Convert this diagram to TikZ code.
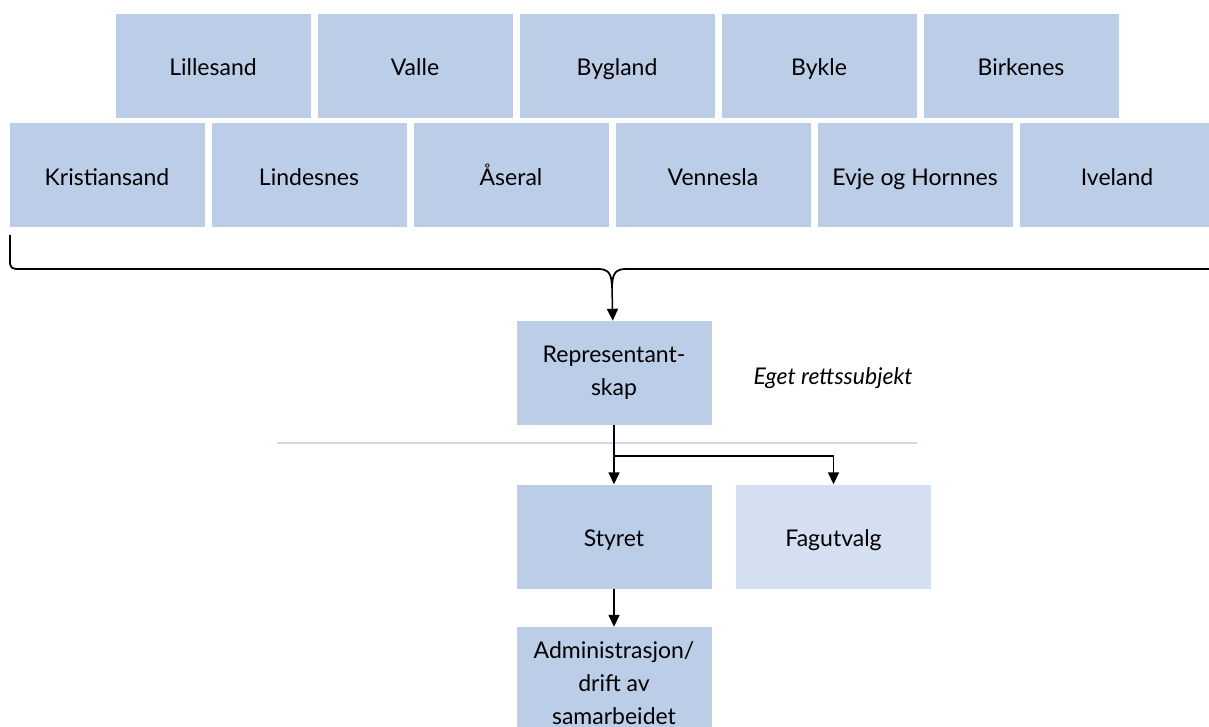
\documentclass[tikz,border=0pt]{standalone}
\usepackage{fontspec}
\setmainfont{Lato}
\usetikzlibrary{arrows.meta,positioning}
\definecolor{boxblue}{RGB}{188,205,232}
\definecolor{boxpale}{RGB}{212,223,241}
\definecolor{rulegrey}{RGB}{207,216,234}
\tikzset{
  unit/.style={fill=boxblue, minimum width=195pt, minimum height=104pt, inner sep=0pt,
    align=center, font=\fontsize{23}{33}\selectfont},
  one/.style={unit, text height=21pt, text depth=1pt},
  link/.style={line width=1.5pt, -{Triangle[width=11pt,length=12pt]}},
  brace/.style={line width=1.8pt},
}
\begin{document}
\begin{tikzpicture}[x=1pt,y=-1pt]
    \useasboundingbox (0,0) rectangle (1209,727);
    % municipalities, upper row
    \foreach \lbl [count=\i] in {Lillesand, Valle, Bygland, Bykle, Birkenes}
        \node[one] (top\i) at (213+202*\i-202, 66) {\lbl};
    % municipalities, lower row
    \foreach \lbl [count=\i] in {Kristiansand, Lindesnes, Åseral, Vennesla, Evje og Hornnes, Iveland}
        \node[one] (low\i) at (107+202*\i-202, 175.5) {\lbl};

    \node[unit] (rep) at (614, 373) {Representant-\\skap};
    \node[font=\fontsize{23}{33}\selectfont\itshape] (eget) at (833, 378) {Eget rettssubjekt};
    \node[one] (styret) at (614, 536.5) {Styret};
    \node[one, fill=boxpale] (fag) at (833.5, 536.5) {Fagutvalg};
    \node[unit, minimum height=113pt] (admin) at (614, 683.5) {Administrasjon/\\drift av\\samarbeidet};

    % brace gathering all members
    \coordinate (tip) at (612, 288);
    \draw[brace] (10, 235) -- (10, 261) .. controls (10, 268) and (12, 269) .. (19, 269)
        -- (598, 269) .. controls (608, 269) and (612, 273) .. (tip)
        .. controls (612, 273) and (616, 269) .. (626, 269) -- (1209, 269);
    \draw[link] (tip) -- (rep);

    % boundary of the legal entity
    \coordinate (ruleL) at (277, 443);
    \coordinate (ruleR) at (917, 443);
    \draw[rulegrey, line width=1.5pt] (ruleL) -- (ruleR);

    \coordinate (fork) at (614, 456);
    \draw[link] (rep) -- (styret);
    \draw[link] (fork) -| (fag);
    \draw[link] (styret) -- (admin);
\end{tikzpicture}
\end{document}
